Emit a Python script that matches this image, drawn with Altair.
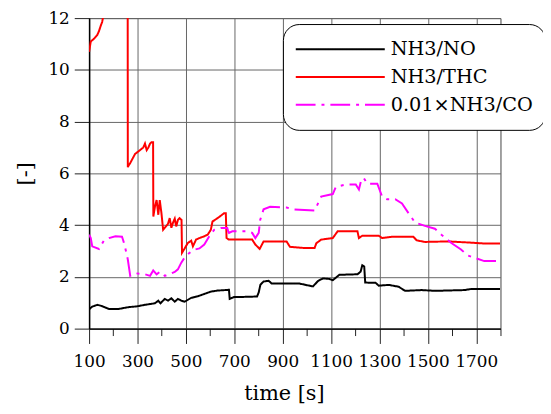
import altair as alt
import pandas as pd

series_names = ["NH3/NO", "NH3/THC", "0.01×NH3/CO"]
series_colors = ["#000000", "#ff0000", "#ff00ff"]
series_dashes = [[1, 0], [1, 0], [20, 6, 3, 6]]

no_t = [100, 104, 113, 134, 150, 182, 222, 263, 297, 331, 372, 386, 395, 413, 426, 440, 454, 467, 481, 495,
        522, 549, 576, 603, 630, 678, 681, 699, 712, 794, 801, 808, 821, 842, 855, 970, 1025, 1046, 1066, 1093,
        1107, 1134, 1209, 1222, 1229, 1237, 1241, 1284, 1297, 1338, 1379, 1406, 1474, 1529, 1651, 1678, 1798]
no_v = [0.74, 0.78, 0.85, 0.92, 0.88, 0.76, 0.76, 0.83, 0.86, 0.92, 0.98, 1.08, 0.98, 1.15, 1.08, 1.17, 1.04, 1.15, 1.08, 1.04,
        1.19, 1.25, 1.34, 1.43, 1.47, 1.5, 1.15, 1.22, 1.22, 1.24, 1.4, 1.7, 1.82, 1.85, 1.74, 1.74, 1.63, 1.84, 1.94, 1.92,
        1.87, 2.08, 2.1, 2.2, 2.45, 2.4, 1.78, 1.77, 1.66, 1.69, 1.62, 1.46, 1.49, 1.46, 1.49, 1.53, 1.53]

thc_t = [100, 107, 120, 134, 141, 148, 154, 161, 180, 220, 255, 259.5, 260, 263, 270, 290, 304, 324, 331, 338,
         345, 352, 358, 364.5, 365.5, 372, 379, 386, 392, 399, 406, 413, 426, 433, 440, 447, 454, 460, 467, 474,
         482, 484, 495, 508, 522, 529, 542, 556, 576, 590, 603, 610, 631, 644, 658, 665, 668, 678, 712, 774,
         787, 805, 821, 848, 916, 930, 984, 1032, 1039, 1059, 1107, 1127, 1209, 1215, 1229, 1297, 1311, 1352, 1440, 1454,
         1488, 1583, 1664, 1733, 1798]
thc_v = [10.7, 11.1, 11.2, 11.35, 11.5, 11.7, 11.85, 12.2, 13.5, 14, 13.5, 12.5, 6.24, 6.3, 6.4, 6.75, 6.85, 7.0, 7.15, 6.9,
         7.0, 7.15, 7.2, 7.2, 4.33, 4.71, 4.97, 4.4, 4.97, 4.46, 3.82, 3.9, 4.05, 4.27, 3.9, 4.1, 4.25, 3.95, 4.2, 4.27,
         4.2, 2.93, 3.1, 3.31, 3.4, 3.18, 3.44, 3.5, 3.57, 3.63, 3.82, 4.14, 4.27, 4.36, 4.46, 4.46, 3.5, 3.44, 3.44, 3.44,
         3.25, 3.08, 3.37, 3.37, 3.37, 3.16, 3.12, 3.12, 3.3, 3.44, 3.5, 3.76, 3.76, 3.5, 3.59, 3.59, 3.5, 3.55, 3.55, 3.41,
         3.35, 3.37, 3.33, 3.29, 3.29]

co_t = [100, 107, 113, 141, 161, 182, 209, 236, 243, 255, 260, 270, 291, 331, 352, 365, 379, 393, 413, 440,
        454, 467, 481, 495, 515, 535, 556, 576, 597, 617, 644, 671, 675, 678, 692, 753, 774, 787, 801, 807,
        821, 848, 916, 944, 1032, 1046, 1059, 1107, 1120, 1161, 1202, 1215, 1226, 1236, 1250, 1291, 1311, 1331, 1365, 1393,
        1420, 1447, 1488, 1529, 1556, 1597, 1637, 1664, 1705, 1733, 1798]
co_v = [3.63, 3.5, 3.18, 3.08, 3.4, 3.5, 3.57, 3.55, 3.35, 2.9, 2.67, 2.04, 2.14, 2.1, 2.04, 2.25, 2.1, 2.2, 2.04, 2.14,
        2.19, 2.29, 2.55, 2.75, 2.93, 3.05, 3.1, 3.25, 3.57, 3.82, 3.89, 3.89, 3.75, 3.7, 3.76, 3.76, 3.7, 3.5, 3.7, 4.2,
        4.61, 4.71, 4.68, 4.61, 4.56, 4.84, 5.1, 5.2, 5.48, 5.57, 5.57, 5.38, 5.8, 5.8, 5.6, 5.6, 5.1, 5.0, 5.0, 4.84,
        4.46, 4.1, 3.97, 3.86, 3.63, 3.31, 3.06, 2.83, 2.7, 2.61, 2.61]

x_ticks = list(range(100, 1801, 100))
y_ticks = list(range(0, 13, 2))

rows = []
for name, ts, vs in zip(series_names, [no_t, thc_t, co_t], [no_v, thc_v, co_v]):
    for t, v in zip(ts, vs):
        rows.append({"series": name, "t": t, "v": v})
df = pd.DataFrame(rows)

FONT = "DejaVu Serif"
is_major = "datum.value % 200 == 100"

x_axis = alt.Axis(
    values=x_ticks, format="d", title="time [s]", labelFlush=False, labelOverlap=False,
    labelExpr=f"{is_major} ? datum.label : ''",
    tickSize={"condition": {"test": is_major, "value": 15}, "value": 7},
    gridOpacity={"condition": {"test": is_major, "value": 1}, "value": 0},
    labelPadding=10, titleX=197, titleY=72, titleAlign="center", titleBaseline="alphabetic",
)
y_axis = alt.Axis(
    values=y_ticks, title="[-]", tickSize=15, labelPadding=5, labelFlush=False, labelOverlap=False,
    titleX=-64, titleY=157, titleAngle=270, titleAlign="center", titleBaseline="middle",
)

legend = alt.Legend(
    title=None, orient="none", legendX=196, legendY=6,
    fillColor="white", strokeColor="black", cornerRadius=16, padding=12,
    symbolType="stroke", symbolSize=8100, symbolStrokeWidth=2,
    labelFont=FONT, labelFontSize=19.5, labelColor="black", labelOffset=5,
    clipHeight=27, rowPadding=1,
)

chart = alt.Chart(df).mark_line(strokeWidth=2, clip=True).encode(
    x=alt.X("t:Q", scale=alt.Scale(domain=[100, 1800], nice=False, zero=False), axis=x_axis),
    y=alt.Y("v:Q", scale=alt.Scale(domain=[0, 12], nice=False), axis=y_axis),
    color=alt.Color("series:N", sort=series_names,
                    scale=alt.Scale(domain=series_names, range=series_colors), legend=legend),
    strokeDash=alt.StrokeDash("series:N", sort=series_names,
                              scale=alt.Scale(domain=series_names, range=series_dashes), legend=legend),
).properties(
    width=416, height=314,
    autosize=alt.AutoSizeParams(type="none"),
    padding={"left": 82, "top": 8, "right": 43, "bottom": 74},
    background="white",
).configure(
    font=FONT,
).configure_view(
    stroke="#444444", strokeWidth=1,
).configure_axis(
    labelFont=FONT, labelFontSize=17, labelColor="black",
    titleFont=FONT, titleFontSize=21, titleFontWeight="normal", titleColor="black",
    domainColor="black", domainWidth=1.5, tickColor="#222222", tickWidth=1,
    gridColor="#666666", gridWidth=1,
)

chart.save("out.html", embed_options={"renderer": "svg", "actions": False})
